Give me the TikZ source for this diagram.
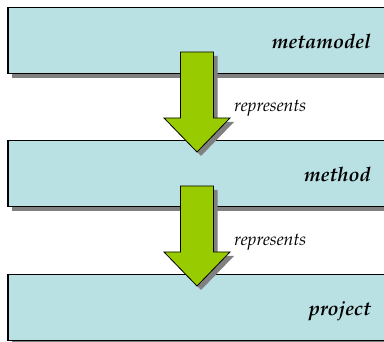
\documentclass[tikz,border=0pt]{standalone}
\usepackage[T1]{fontenc}
\usepackage{mathpazo}
\usetikzlibrary{shadows}
\definecolor{boxfill}{RGB}{185,224,227}
\definecolor{arrowgreen}{RGB}{153,204,0}
\definecolor{shadowgray}{RGB}{128,128,128}
\begin{document}
\begin{tikzpicture}[x=1pt,y=1pt,
  layerbox/.style={draw=black, line width=1pt, fill=boxfill,
    minimum width=392pt, minimum height=66pt, inner sep=0pt, outer sep=0pt,
    anchor=north west,
    drop shadow={shadow xshift=4pt, shadow yshift=-4pt, opacity=1, fill=shadowgray}},
  layertext/.style={anchor=base east, inner sep=0pt,
    font=\fontsize{20}{22}\selectfont\bfseries\itshape},
  bigarrow/.style={draw=black, line width=0.8pt, fill=arrowgreen, line join=miter,
    drop shadow={shadow xshift=4pt, shadow yshift=-4pt, opacity=1, fill=shadowgray}},
  reltext/.style={anchor=base west, inner sep=0pt,
    font=\fontsize{17.7}{20}\selectfont\itshape}]
\useasboundingbox (0,0) rectangle (384,342);
\clip (0,0) rectangle (384,342);

% layers
\node[layerbox] (meta) at (8,334) {};
\node[layerbox] (method) at (8,201) {};
\node[layerbox] (project) at (8,67) {};

\node[layertext] (metalbl) at (371,293) {metamodel};
\node[layertext] (methodlbl) at (371,160) {method};
\node[layertext] (projectlbl) at (371,26) {project};

% arrows
\coordinate (tip1) at (197,190);
\coordinate (tip2) at (197,56);
\path[bigarrow] (tip1) -- ++(33,34) -- ++(-16.5,0) -- ++(0,66) -- ++(-33,0)
  -- ++(0,-66) -- ++(-16.5,0) -- cycle;
\path[bigarrow] (tip2) -- ++(33,34) -- ++(-16.5,0) -- ++(0,66) -- ++(-33,0)
  -- ++(0,-66) -- ++(-16.5,0) -- cycle;

\node[reltext] (rel1) at (234,230) {represents};
\node[reltext] (rel2) at (234,96) {represents};
\end{tikzpicture}
\end{document}
